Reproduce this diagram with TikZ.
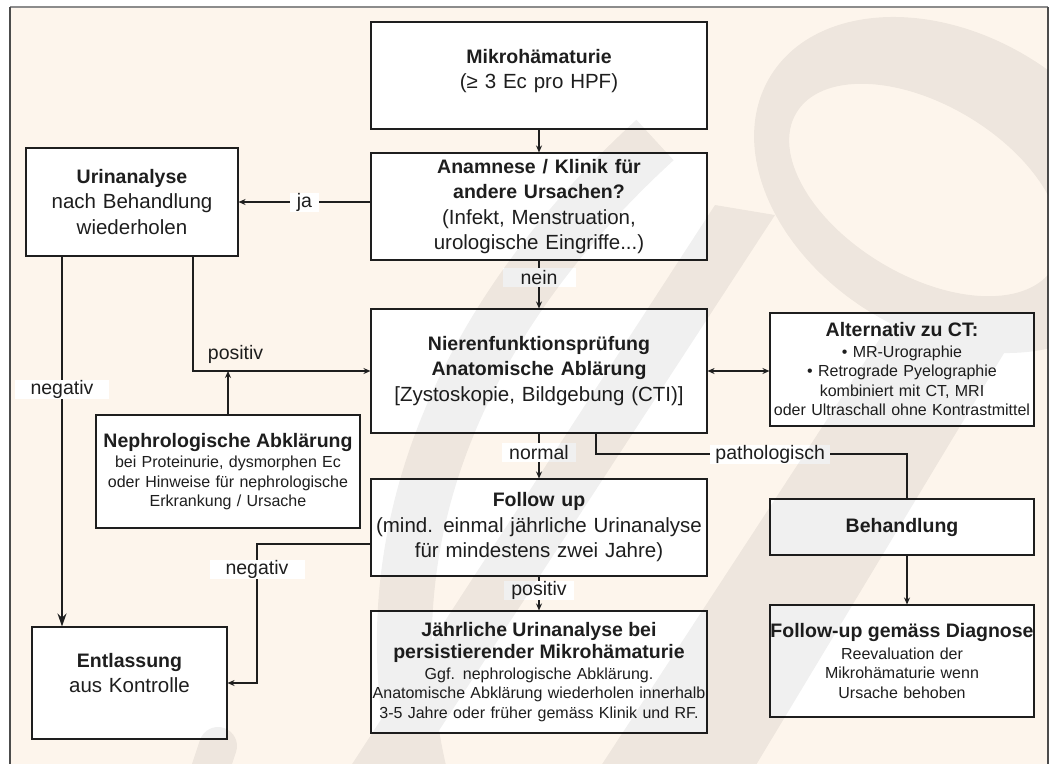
\documentclass[tikz,border=0pt]{standalone}
\usepackage{fontspec}
\setmainfont{Liberation Sans}
\usepackage{tikz}
\usetikzlibrary{arrows.meta,positioning,shadows}
\definecolor{peach}{HTML}{FDF5EC}
\definecolor{ink}{HTML}{1E1E1E}
\newcommand\smtext{\fontsize{16}{19.5}\selectfont}
\newcommand\titl[1]{{\fontsize{19.5}{23}\selectfont\bfseries #1}}

\begin{document}
\begin{tikzpicture}[x=1pt, y=-1pt,
    box/.style n args={2}{draw=ink, fill=white, line width=1.1pt,
        drop shadow={shadow xshift=1.2pt, shadow yshift=-1.2pt, fill=black!40},
        align=center, inner sep=0pt, text width=#1, minimum height=#2,
        font=\fontsize{20.5}{25.5}\selectfont, text=ink},
    smbox/.style n args={2}{box={#1}{#2}, font=\smtext},
    lbl/.style={fill=white, inner xsep=7pt, inner ysep=0pt, minimum height=19pt,
        font=\fontsize{19.5}{22}\selectfont, text=ink},
    conn/.style={draw=ink, line width=1.3pt},
    arr/.style={conn, -{Stealth[length=7pt,width=6pt]}}]
\useasboundingbox (0,0) rectangle (1051,763);
\fill[peach] (10,7) rectangle (1048,775);
\draw[black!45, line width=1.2pt] (10,7) -- (1048,7);
\draw[black!70, line width=1.2pt] (10,775) -- (10,7) (1048,7) -- (1048,775);

\node[box={336pt}{107pt}] (mikro) at (539,75.5) {\titl{Mikrohämaturie}\\(≥ 3 Ec pro HPF)\\[-12.5pt]\mbox{}};
\node[box={336pt}{107pt}] (anam) at (539,206.5) {\titl{Anamnese / Klinik für}\\\titl{andere Ursachen?}\\(Infekt, Menstruation,\\urologische Eingriffe...)};
\node[box={212pt}{108pt}] (urin) at (132,202) {\titl{Urinanalyse}\\nach Behandlung\\wiederholen};
\node[box={336pt}{124pt}] (nieren) at (539,371) {\titl{Nierenfunktionsprüfung}\\\titl{Anatomische Ablärung}\\{}[Zystoskopie, Bildgebung (CTI)]};
\node[smbox={264pt}{113pt}] (alt) at (902,369.5) {\titl{Alternativ zu CT:}\\[1pt]• MR-Urographie\\• Retrograde Pyelographie\\kombiniert mit CT, MRI\\oder Ultraschall ohne Kontrastmittel};
\node[smbox={264pt}{113pt}] (nephro) at (228,471.5) {\titl{Nephrologische Abklärung}\\[1pt]bei Proteinurie, dysmorphen Ec\\oder Hinweise für nephrologische\\Erkrankung / Ursache};
\node[box={336pt}{97pt}] (follow) at (539,527.5) {\titl{Follow up}\\(mind. einmal jährliche Urinanalyse\\für mindestens zwei Jahre)};
\node[box={264pt}{56pt}] (behand) at (902,527) {\titl{Behandlung}};
\node[smbox={264pt}{112pt}] (fdiag) at (902,661) {\titl{Follow-up gemäss Diagnose}\\[2pt]Reevaluation der\\Mikrohämaturie wenn\\Ursache behoben};
\node[smbox={336pt}{122pt}] (jaehr) at (539,672) {\titl{Jährliche Urinanalyse bei}\\[3pt]\titl{persistierender Mikrohämaturie}\\[1pt]Ggf. nephrologische Abklärung.\\Anatomische Abklärung wiederholen innerhalb\\3-5 Jahre oder früher gemäss Klinik und RF.};
\node[box={195pt}{112pt}] (entl) at (129.5,683) {\titl{Entlassung}\\aus Kontrolle\\[-5.5pt]\mbox{}};

\coordinate (pk) at (907,454);
\coordinate (nk) at (257,544);

\draw[arr] (mikro) -- (anam);
\draw[arr, line width=2pt] (anam.west |- urin.east) -- node[lbl]{ja} (urin.east);
\draw[arr] (anam) -- node[lbl, pos=0.35, minimum width=73pt]{nein} (nieren);
\draw[arr] ([xshift=61pt]urin.south) |- node[pos=0.62, above=3pt, text=ink, font=\fontsize{19.5}{22}\selectfont]{positiv} (nieren.west);
\draw[arr] (nephro.north) -- (nephro.north |- nieren.west);
\draw[conn, line width=1.6pt, -{Stealth[length=13pt,width=9pt]}] ([xshift=-70pt]urin.south) -- node[lbl, pos=0.36, minimum width=94pt]{negativ} ([xshift=-70pt]urin.south |- entl.north);
\draw[conn, {Stealth[length=7pt,width=6pt]}-{Stealth[length=7pt,width=6pt]}] (nieren.east) -- (nieren.east -| alt.west);
\draw[arr] (nieren) -- node[lbl, pos=0.43]{normal} (follow);
\draw[conn] ([xshift=57pt]nieren.south) |- node[lbl, pos=0.78, inner xsep=5pt]{pathologisch} (pk) -- (pk |- behand.north);
\draw[arr] (pk |- behand.south) -- (pk |- fdiag.north);
\draw[arr] ([yshift=-16.5pt]follow.west) -- (nk) |- node[lbl, pos=0.09, minimum width=95pt]{negativ} (entl.east);
\draw[arr] (follow) -- node[lbl, pos=0.4]{positiv} (jaehr);

\begin{scope}[transparency group, opacity=0.06]
\clip (10,7) rectangle (1048,775);
\fill[black, even odd rule] (950,185) circle[x radius=210pt, y radius=150pt, rotate=-31]
    (925,190) circle[x radius=150pt, y radius=85pt, rotate=-31];
\fill[black] (905,300) -- (1030,310) -- (750,775) -- (595,775) -- cycle;
\fill[black] (715,205) -- (775,215) -- (410,775) -- (345,775) -- cycle;
\draw[black, line width=55pt] (655,140) .. controls (480,300) and (360,520) .. (420,775);
\draw[black, line width=38pt, line cap=round] (218,746) -- (200,800);
\end{scope}
\end{tikzpicture}
\end{document}
